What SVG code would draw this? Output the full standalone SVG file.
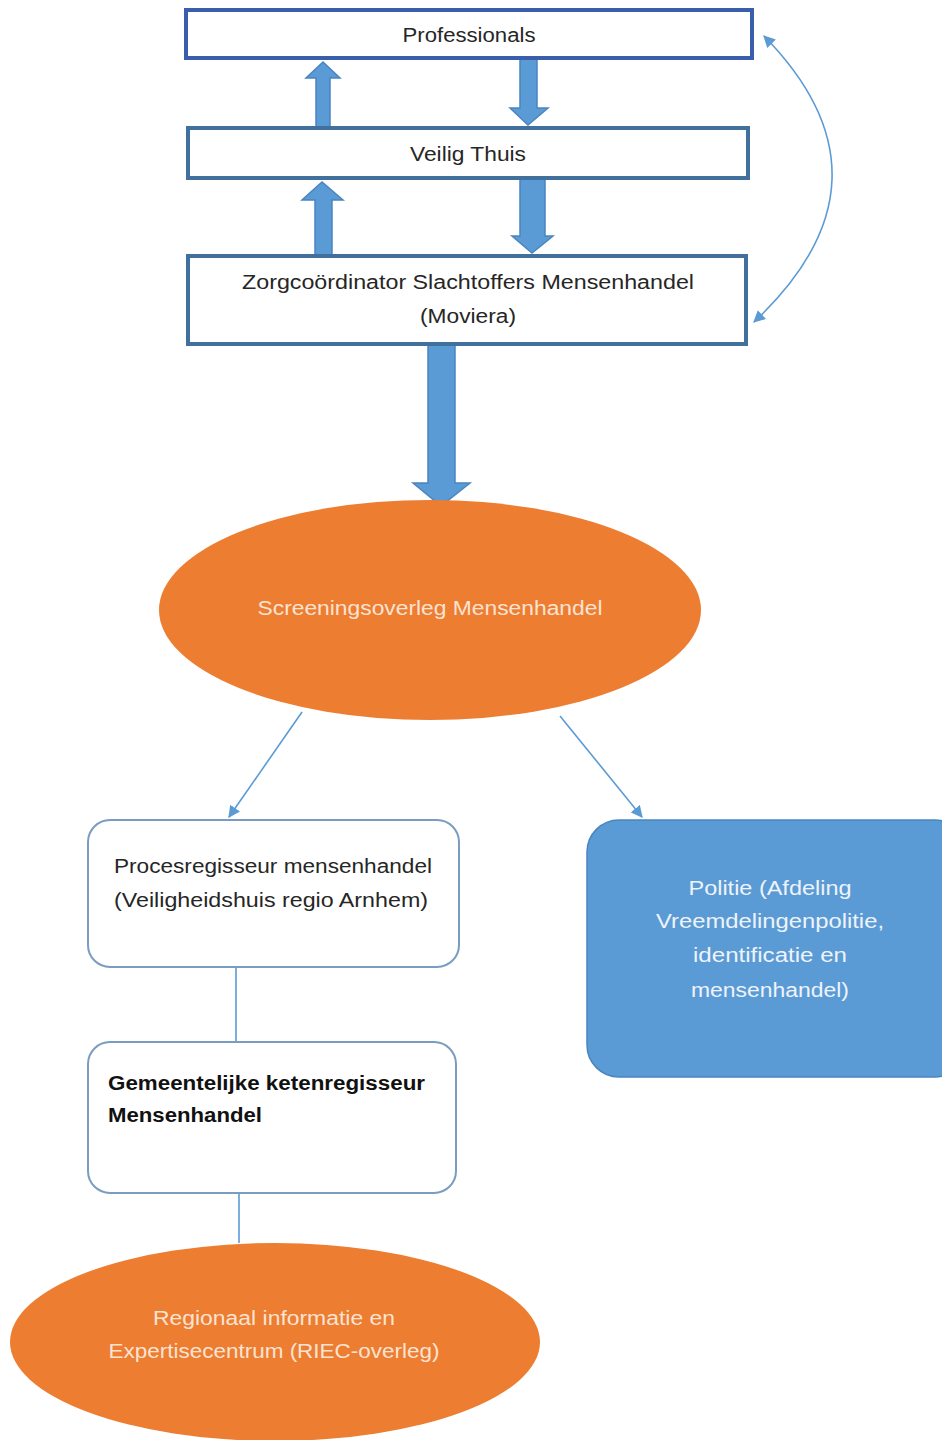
<svg xmlns="http://www.w3.org/2000/svg" width="942" height="1440" viewBox="0 0 942 1440">
<defs>
<marker id="ah2" viewBox="0 0 10 10" refX="9" refY="5" markerWidth="12" markerHeight="12" orient="auto-start-reverse" markerUnits="userSpaceOnUse">
<path d="M0,0 L10,5 L0,10 z" fill="#5b9bd5"/>
</marker>
</defs>
<style>
text{font-family:"Liberation Sans",Arial,sans-serif;font-size:20px}
.dark{fill:#262626}
.lite{fill:#fbe3d3}
.wht{fill:#eef3fa}
.bold{font-weight:bold;fill:#111}
.sq{fill:#fff;stroke-width:4}
.rb{fill:#fff;stroke:#7a9cc0;stroke-width:2}
.blk{fill:#5b9bd5;stroke:#4a85c0;stroke-width:1.5}
.thin{fill:none;stroke:#5b9bd5;stroke-width:1.6}
.orange{fill:#ed7d31}
</style>
<rect width="942" height="1440" fill="#fff"/>
<g id="connectors">
<path class="blk" d="M316,128 L316,78 L306,78 L323,62 L340,78 L330,78 L330,128 z"/>
<path class="blk" d="M520,58 L537,58 L537,108 L548,108 L528,125 L510,108 L520,108 z"/>
<path class="blk" d="M315,256 L315,200 L302,200 L322,182 L343,200 L332,200 L332,256 z"/>
<path class="blk" d="M520,178 L545,178 L545,236 L553,236 L532,253 L512,236 L520,236 z"/>
<path class="blk" d="M428,344 L455,344 L455,483 L470,483 L441,506 L413,483 L428,483 z"/>
<path class="thin" d="M764,36 Q905,180 754,322" marker-start="url(#ah2)" marker-end="url(#ah2)"/>
<line class="thin" x1="302" y1="712" x2="229" y2="817" marker-end="url(#ah2)"/>
<line class="thin" x1="560" y1="716" x2="642" y2="817" marker-end="url(#ah2)"/>
<line class="thin" x1="236" y1="967" x2="236" y2="1042" stroke="#7a9cc0"/>
<line class="thin" x1="239" y1="1193" x2="239" y2="1243" stroke="#7a9cc0"/>
</g>
<g id="professionals">
<rect class="sq" x="186" y="10" width="566" height="48" stroke="#3a5eac"/>
<text class="dark" x="469" y="42" text-anchor="middle" textLength="133" lengthAdjust="spacingAndGlyphs">Professionals</text>
</g>
<g id="veilig-thuis">
<rect class="sq" x="188" y="128" width="560" height="50" stroke="#41709c"/>
<text class="dark" x="468" y="161" text-anchor="middle" textLength="116" lengthAdjust="spacingAndGlyphs">Veilig Thuis</text>
</g>
<g id="zorgcoordinator">
<rect class="sq" x="188" y="256" width="558" height="88" stroke="#41709c"/>
<text class="dark" x="468" y="289" text-anchor="middle" textLength="452" lengthAdjust="spacingAndGlyphs">Zorgcoördinator Slachtoffers Mensenhandel</text>
<text class="dark" x="468" y="323" text-anchor="middle" textLength="96" lengthAdjust="spacingAndGlyphs">(Moviera)</text>
</g>
<g id="screeningsoverleg">
<ellipse class="orange" cx="430" cy="610" rx="271" ry="110"/>
<text class="lite" x="430" y="615" text-anchor="middle" textLength="345" lengthAdjust="spacingAndGlyphs">Screeningsoverleg Mensenhandel</text>
</g>
<g id="procesregisseur">
<rect class="rb" x="88" y="820" width="371" height="147" rx="22"/>
<text class="dark" x="273" y="873" text-anchor="middle" textLength="318" lengthAdjust="spacingAndGlyphs">Procesregisseur mensenhandel</text>
<text class="dark" x="271" y="907" text-anchor="middle" textLength="314" lengthAdjust="spacingAndGlyphs">(Veiligheidshuis regio Arnhem)</text>
</g>
<g id="politie">
<rect x="587" y="820" width="380" height="257" rx="32" fill="#5b9bd5" stroke="#4a85c0" stroke-width="1.5"/>
<text class="wht" x="770" y="895" text-anchor="middle" textLength="163" lengthAdjust="spacingAndGlyphs">Politie (Afdeling</text>
<text class="wht" x="770" y="928" text-anchor="middle" textLength="228" lengthAdjust="spacingAndGlyphs">Vreemdelingenpolitie,</text>
<text class="wht" x="770" y="962" text-anchor="middle" textLength="154" lengthAdjust="spacingAndGlyphs">identificatie en</text>
<text class="wht" x="770" y="997" text-anchor="middle" textLength="158" lengthAdjust="spacingAndGlyphs">mensenhandel)</text>
</g>
<g id="ketenregisseur">
<rect class="rb" x="88" y="1042" width="368" height="151" rx="22"/>
<text class="bold" x="108" y="1090" textLength="317" lengthAdjust="spacingAndGlyphs">Gemeentelijke ketenregisseur</text>
<text class="bold" x="108" y="1122" textLength="154" lengthAdjust="spacingAndGlyphs">Mensenhandel</text>
</g>
<g id="riec">
<ellipse class="orange" cx="275" cy="1342" rx="265" ry="99"/>
<text class="lite" x="274" y="1325" text-anchor="middle" textLength="242" lengthAdjust="spacingAndGlyphs">Regionaal informatie en</text>
<text class="lite" x="274" y="1358" text-anchor="middle" textLength="331" lengthAdjust="spacingAndGlyphs">Expertisecentrum (RIEC-overleg)</text>
</g>
</svg>
